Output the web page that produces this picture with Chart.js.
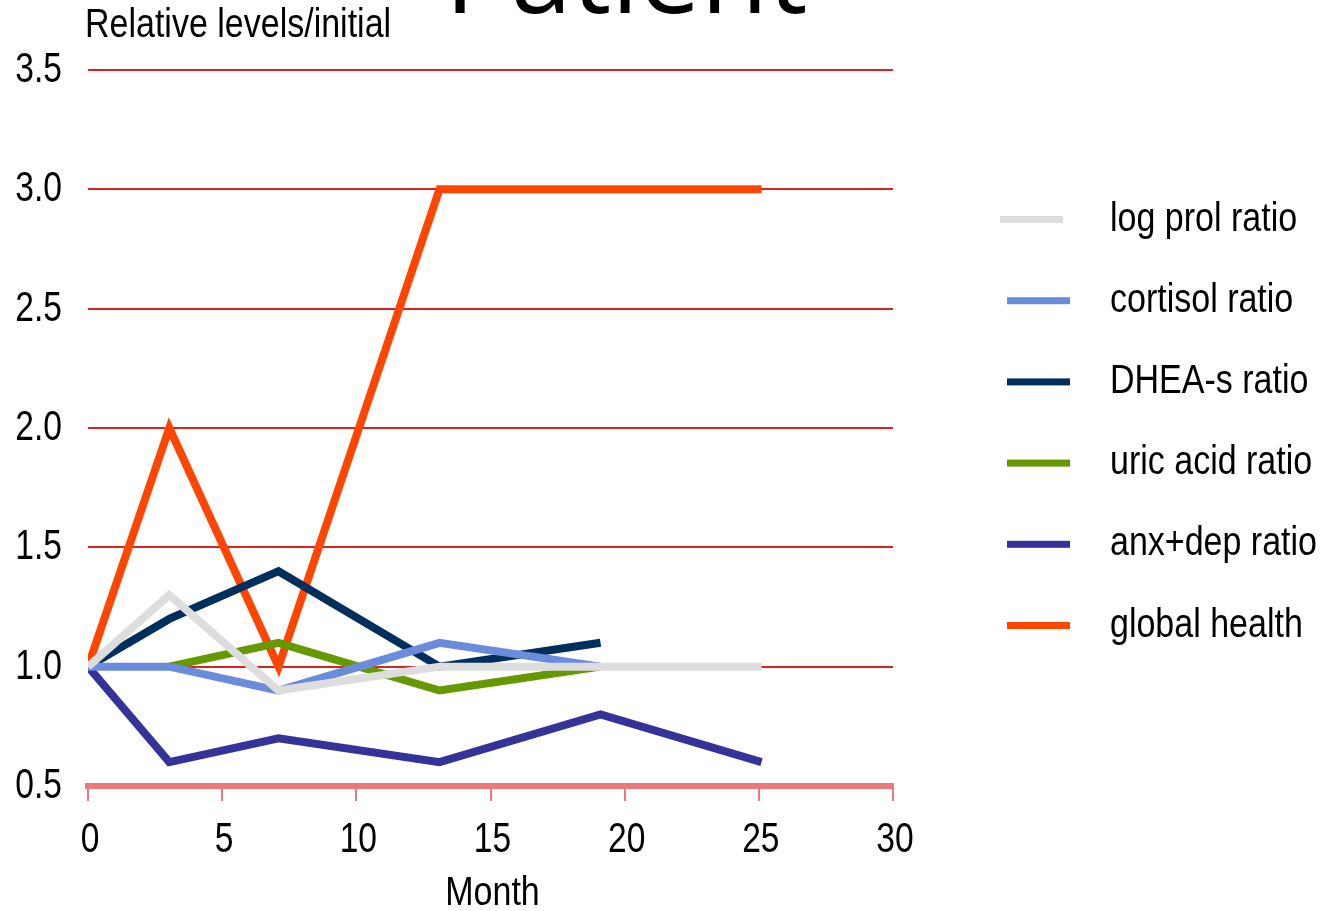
<!DOCTYPE html>
<html>
<head>
<meta charset="utf-8">
<script src="https://cdn.jsdelivr.net/npm/chart.js@4.4.1/dist/chart.umd.min.js"></script>
<style>
  html, body { margin: 0; padding: 0; background: #ffffff; }
  #wrap { width: 1342px; height: 911px; position: relative; }
</style>
</head>
<body>
<div id="wrap"><canvas id="chart" width="1342" height="911"></canvas></div>
<script>
// Months at which measurements were taken
const months = [0, 3.03, 7.1, 13.1, 19.1, 25.1];

// Ratios relative to the initial value
const logProlRatio   = [1.0, 1.3, 0.9, 1.0, 1.0, 1.0];
const cortisolRatio  = [1.0, 1.0, 0.9, 1.1, 1.0, null];
const dheasRatio     = [1.0, 1.2, 1.4, 1.0, 1.1, null];
const uricAcidRatio  = [null, 1.0, 1.1, 0.9, 1.0, null];
const anxDepRatio    = [1.0, 0.6, 0.7, 0.6, 0.8, 0.6];
const globalHealth   = [1.0, 2.0, 1.0, 3.0, 3.0, 3.0];

const seriesNames  = ['log prol ratio', 'cortisol ratio', 'DHEA-s ratio', 'uric acid ratio', 'anx+dep ratio', 'global health'];
const seriesColors = ['#dddddd', '#6b8cdd', '#002f5e', '#669900', '#333399', '#ff4500'];
const seriesValues = [logProlRatio, cortisolRatio, dheasRatio, uricAcidRatio, anxDepRatio, globalHealth];

const BASE_FONT = '"Liberation Sans", Arial, sans-serif';
const NARROW = 0.85;   // horizontal squeeze for a narrow sans look

const toPoints = vals => months.map((m, i) => ({ x: m, y: vals[i] })).filter(p => p.y !== null);

const datasets = seriesNames.map((name, i) => ({
  label: name,
  data: toPoints(seriesValues[i]),
  borderColor: seriesColors[i],
  backgroundColor: seriesColors[i],
  borderWidth: 8,
  pointRadius: 0,
  pointHoverRadius: 0,
  tension: 0,
  fill: false,
  borderCapStyle: 'butt',
  borderJoinStyle: 'miter'
}));

// Draws condensed text anchored at (x, baseline)
function narrowText(ctx, text, x, y, size, align, squeeze) {
  const s = squeeze || NARROW;
  ctx.save();
  ctx.font = size + 'px ' + BASE_FONT;
  ctx.textBaseline = 'alphabetic';
  ctx.textAlign = align;
  ctx.translate(x, y);
  ctx.scale(s, 1);
  ctx.fillStyle = '#000000';
  ctx.fillText(text, 0, 0);
  ctx.restore();
}

// Tick labels, axis captions, title and legend
const decorations = {
  id: 'decorations',
  afterDraw(chart) {
    const ctx = chart.ctx;
    const xs = chart.scales.x, ys = chart.scales.y;

    ys.ticks.forEach(t => {
      const py = ys.getPixelForValue(t.value);
      narrowText(ctx, t.value.toFixed(1), 62, py + 12, 42, 'right', 0.8);
    });
    xs.ticks.forEach(t => {
      const px = xs.getPixelForValue(t.value);
      narrowText(ctx, String(t.value), px + 2, 852, 42, 'center', 0.8);
    });

    narrowText(ctx, 'Month', (xs.left + xs.right) / 2 + 2, 905, 40, 'center');
    narrowText(ctx, 'Relative levels/initial', 85, 37, 40, 'left');

    ctx.save();
    ctx.fillStyle = '#000000';
    ctx.font = '110px "Open Sans", sans-serif';
    ctx.textAlign = 'center';
    ctx.textBaseline = 'alphabetic';
    ctx.fillText('Patient', 626, 13);
    ctx.restore();

    const x0 = 1007, lineLen = 63, textX = 1110, top = 219.5, step = 81.2;
    chart.data.datasets.forEach((ds, i) => {
      const y = top + i * step;
      ctx.save();
      ctx.fillStyle = ds.borderColor;
      ctx.fillRect(x0 - (i === 0 ? 7 : 0), y - 3.5, lineLen, 7);
      ctx.restore();
      narrowText(ctx, ds.label, textX, y + 11, 40, 'left');
    });
  }
};

new Chart(document.getElementById('chart'), {
  type: 'line',
  data: { datasets },
  plugins: [decorations],
  options: {
    responsive: false,
    animation: false,
    layout: { padding: { top: 70, right: 449, left: 0, bottom: 0 } },
    plugins: {
      legend: { display: false },
      title: { display: false },
      tooltip: { enabled: false }
    },
    scales: {
      x: {
        type: 'linear',
        min: 0,
        max: 30,
        ticks: { stepSize: 5, display: false },
        grid: {
          display: true,
          drawOnChartArea: false,
          drawTicks: true,
          tickLength: 15,
          color: '#ee7777',
          lineWidth: 2
        },
        border: { display: true, color: '#ee7777', width: 6 },
        afterFit(scale) { scale.height = 911 - 786; }
      },
      y: {
        min: 0.5,
        max: 3.5,
        ticks: { stepSize: 0.5, display: false },
        grid: {
          display: true,
          drawTicks: false,
          color: '#dd2222',
          lineWidth: 2
        },
        border: { display: false },
        afterFit(scale) { scale.width = 88; }
      }
    }
  }
});
</script>
</body>
</html>
